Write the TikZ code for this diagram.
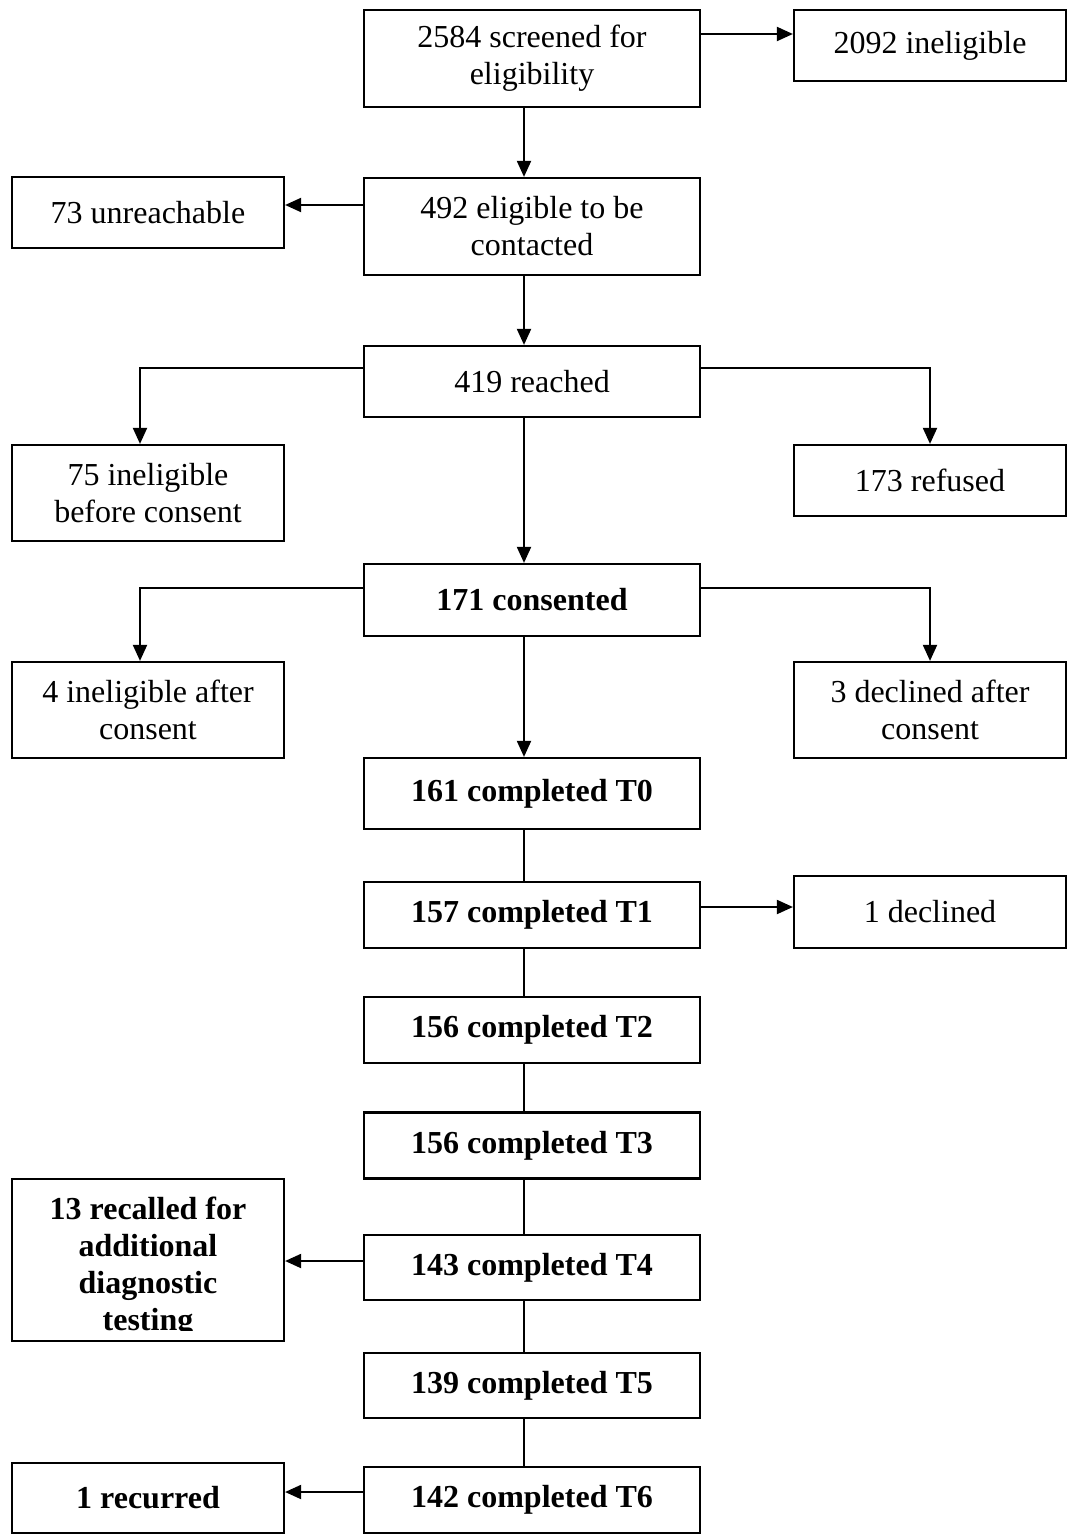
\documentclass[tikz,border=0pt]{standalone}
\usepackage{fontspec}
\setmainfont{Liberation Serif}
\usetikzlibrary{arrows, arrows.meta}
\usetikzlibrary{calc}

\begin{document}
\begin{tikzpicture}[x=1pt, y=-1pt, line width=2pt, >={Triangle[length=16pt, width=14pt]},
    box/.style={rectangle, draw, line width=2.2pt, inner sep=0pt, align=center, font=\fontsize{32}{37}\selectfont},
    mainbox/.style={box, minimum width=336pt},
    sidebox/.style={box, minimum width=272pt}]
    \useasboundingbox (0,0) rectangle (1070,1536);

    \node[mainbox, minimum height=97pt] (1) at (532,58.5) {2584 screened for\\eligibility};
    \node[sidebox, minimum height=71pt] (2) at (930,45.5) {2092 ineligible};
    \node[mainbox, minimum height=97pt] (3) at (532,226.5) {492 eligible to be\\contacted};
    \node[sidebox, minimum height=71pt] (4) at (148,212.5) {73 unreachable};
    \node[mainbox, minimum height=71pt] (5) at (532,381.5) {419 reached};
    \node[sidebox, minimum height=96pt] (6) at (148,493) {75 ineligible\\before consent};
    \node[sidebox, minimum height=71pt] (7) at (930,480.5) {173 refused};
    \node[mainbox, minimum height=72pt] (8) at (532,600) {\textbf{171 consented}};
    \node[sidebox, minimum height=96pt] (9) at (148,710) {4 ineligible after\\consent};
    \node[sidebox, minimum height=96pt] (10) at (930,710) {3 declined after\\consent};
    \node[mainbox, minimum height=71pt] (11) at (532,793.5) {\textbf{161 completed T0}};
    \node[mainbox, minimum height=66pt] (12) at (532,915) {\textbf{157 completed T1}};
    \node[sidebox, minimum height=72pt] (13) at (930,912) {1 declined};
    \node[mainbox, minimum height=66pt] (14) at (532,1030) {\textbf{156 completed T2}};
    \node[mainbox, minimum height=66pt] (15) at (532,1145.5) {\textbf{156 completed T3}};
    \node[mainbox, minimum height=65pt] (16) at (532,1267.5) {\textbf{143 completed T4}};
    \node[sidebox, minimum height=162pt] (17) at (148,1260) {};
    \begin{scope}
      \clip (12,1179) rectangle (284,1330);
      \node[align=center, inner sep=0pt, font=\fontsize{32}{37}\selectfont\bfseries, anchor=north] (17t) at (148,1196) {13 recalled for\\additional\\diagnostic\\testing};
    \end{scope}
    \node[mainbox, minimum height=65pt] (18) at (532,1385.5) {\textbf{139 completed T5}};
    \node[mainbox, minimum height=66pt] (19) at (532,1500) {\textbf{142 completed T6}};
    \node[sidebox, minimum height=70pt] (20) at (148,1498) {\textbf{1 recurred}};

    \coordinate (c) at (524,0);

    % down the middle
    \draw[->] (1.south -| c) -- (3.north -| c);
    \draw[->] (3.south -| c) -- (5.north -| c);
    \draw[->] (5.south -| c) -- (8.north -| c);
    \draw[->] (8.south -| c) -- (11.north -| c);
    \draw (11.south -| c) -- (12.north -| c);
    \draw (12.south -| c) -- (14.north -| c);
    \draw (14.south -| c) -- (15.north -| c);
    \draw (15.south -| c) -- (16.north -| c);
    \draw (16.south -| c) -- (18.north -| c);
    \draw (18.south -| c) -- (19.north -| c);

    % to the sides
    \draw[->] (1.east |- 0,34) -- (2.west |- 0,34);
    \draw[->] (3.west |- 0,205) -- (4.east |- 0,205);
    \draw[->] (5.west |- 0,368) -| ([xshift=-8pt]6.north);
    \draw[->] (5.east |- 0,368) -| (7.north);
    \draw[->] (8.west |- 0,588) -| ([xshift=-8pt]9.north);
    \draw[->] (8.east |- 0,588) -| (10.north);
    \draw[->] (12.east |- 0,907) -- (13.west |- 0,907);
    \draw[->] (16.west |- 0,1261) -- (17.east |- 0,1261);
    \draw[->] (19.west |- 0,1492) -- (20.east |- 0,1492);
\end{tikzpicture}
\end{document}
